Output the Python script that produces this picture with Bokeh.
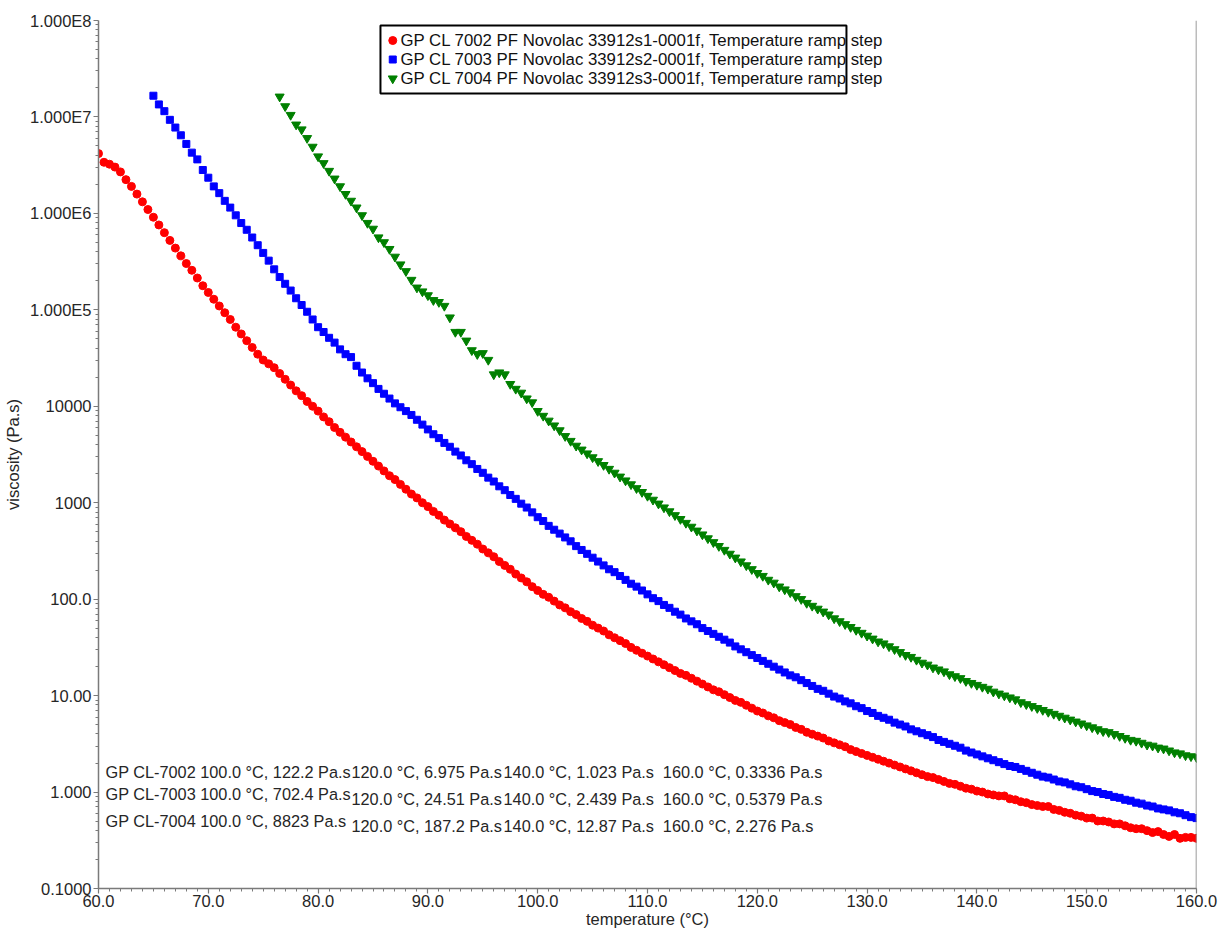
import numpy as np
from bokeh.plotting import figure
from bokeh.models import FixedTicker, CustomJSTickFormatter, ColumnDataSource, Span
from bokeh.core.properties import value
from bokeh.embed import file_html
from bokeh.resources import INLINE

# ---------------- data ----------------
temperature = [
    60.0, 60.5, 61.0, 61.5, 62.0, 62.5, 63.0, 63.5, 64.0, 64.5,
    65.0, 65.5, 66.0, 66.5, 67.0, 67.5, 68.0, 68.5, 69.0, 69.5,
    70.0, 70.5, 71.0, 71.5, 72.0, 72.5, 73.0, 73.5, 74.0, 74.5,
    75.0, 75.5, 76.0, 76.5, 77.0, 77.5, 78.0, 78.5, 79.0, 79.5,
    80.0, 80.5, 81.0, 81.5, 82.0, 82.5, 83.0, 83.5, 84.0, 84.5,
    85.0, 85.5, 86.0, 86.5, 87.0, 87.5, 88.0, 88.5, 89.0, 89.5,
    90.0, 90.5, 91.0, 91.5, 92.0, 92.5, 93.0, 93.5, 94.0, 94.5,
    95.0, 95.5, 96.0, 96.5, 97.0, 97.5, 98.0, 98.5, 99.0, 99.5,
    100.0, 100.5, 101.0, 101.5, 102.0, 102.5, 103.0, 103.5, 104.0, 104.5,
    105.0, 105.5, 106.0, 106.5, 107.0, 107.5, 108.0, 108.5, 109.0, 109.5,
    110.0, 110.5, 111.0, 111.5, 112.0, 112.5, 113.0, 113.5, 114.0, 114.5,
    115.0, 115.5, 116.0, 116.5, 117.0, 117.5, 118.0, 118.5, 119.0, 119.5,
    120.0, 120.5, 121.0, 121.5, 122.0, 122.5, 123.0, 123.5, 124.0, 124.5,
    125.0, 125.5, 126.0, 126.5, 127.0, 127.5, 128.0, 128.5, 129.0, 129.5,
    130.0, 130.5, 131.0, 131.5, 132.0, 132.5, 133.0, 133.5, 134.0, 134.5,
    135.0, 135.5, 136.0, 136.5, 137.0, 137.5, 138.0, 138.5, 139.0, 139.5,
    140.0, 140.5, 141.0, 141.5, 142.0, 142.5, 143.0, 143.5, 144.0, 144.5,
    145.0, 145.5, 146.0, 146.5, 147.0, 147.5, 148.0, 148.5, 149.0, 149.5,
    150.0, 150.5, 151.0, 151.5, 152.0, 152.5, 153.0, 153.5, 154.0, 154.5,
    155.0, 155.5, 156.0, 156.5, 157.0, 157.5, 158.0, 158.5, 159.0, 159.5,
    160.0,
]

# log10 of viscosity (Pa.s), one value per temperature point
red_log10_visc = [  # GP CL 7002, 60.0 .. 160.0
    6.62, 6.53, 6.51, 6.48, 6.43, 6.35, 6.28, 6.20, 6.12, 6.04,
    5.96, 5.88, 5.80, 5.72, 5.64, 5.56, 5.48, 5.41, 5.33, 5.25,
    5.18, 5.11, 5.04, 4.97, 4.90, 4.82, 4.75, 4.68, 4.61, 4.54,
    4.48, 4.44, 4.40, 4.34, 4.28, 4.22, 4.16, 4.11, 4.05, 4.00,
    3.95, 3.89, 3.84, 3.78, 3.73, 3.68, 3.63, 3.58, 3.53, 3.48,
    3.43, 3.38, 3.33, 3.28, 3.24, 3.19, 3.14, 3.09, 3.05, 3.00,
    2.96, 2.91, 2.87, 2.82, 2.78, 2.74, 2.70, 2.65, 2.61, 2.57,
    2.52, 2.48, 2.44, 2.39, 2.35, 2.31, 2.26, 2.22, 2.18, 2.13,
    2.09, 2.05, 2.02, 1.98, 1.94, 1.91, 1.87, 1.84, 1.80, 1.77,
    1.73, 1.70, 1.67, 1.63, 1.60, 1.57, 1.54, 1.50, 1.47, 1.44,
    1.41, 1.38, 1.35, 1.32, 1.29, 1.26, 1.23, 1.21, 1.18, 1.15,
    1.12, 1.09, 1.06, 1.04, 1.01, 0.98, 0.95, 0.93, 0.90, 0.87,
    0.84, 0.82, 0.79, 0.77, 0.74, 0.72, 0.70, 0.67, 0.65, 0.62,
    0.60, 0.58, 0.56, 0.53, 0.51, 0.49, 0.47, 0.44, 0.42, 0.40,
    0.38, 0.36, 0.34, 0.32, 0.30, 0.28, 0.26, 0.24, 0.22, 0.20,
    0.18, 0.16, 0.15, 0.13, 0.11, 0.09, 0.08, 0.06, 0.04, 0.03,
    0.01, 0.00, -0.02, -0.03, -0.04, -0.04, -0.07, -0.08, -0.10, -0.11,
    -0.13, -0.14, -0.15, -0.15, -0.18, -0.19, -0.21, -0.22, -0.24, -0.25,
    -0.27, -0.27, -0.30, -0.30, -0.31, -0.33, -0.33, -0.35, -0.37, -0.38,
    -0.38, -0.40, -0.42, -0.41, -0.44, -0.46, -0.44, -0.48, -0.47, -0.47,
    -0.48,
]

blue_log10_visc = [  # GP CL 7003, 65.0 .. 160.0
    7.22, 7.13, 7.06, 6.97, 6.89, 6.81, 6.72, 6.63, 6.56, 6.45,
    6.37, 6.28, 6.21, 6.13, 6.06, 5.98, 5.90, 5.83, 5.75, 5.67,
    5.59, 5.51, 5.42, 5.34, 5.27, 5.20, 5.12, 5.05, 4.98, 4.90,
    4.82, 4.77, 4.71, 4.66, 4.59, 4.54, 4.51, 4.42, 4.35, 4.29,
    4.24, 4.18, 4.13, 4.08, 4.03, 3.99, 3.95, 3.91, 3.86, 3.81,
    3.76, 3.71, 3.67, 3.62, 3.58, 3.53, 3.49, 3.44, 3.40, 3.35,
    3.31, 3.26, 3.22, 3.17, 3.13, 3.08, 3.04, 2.99, 2.95, 2.90,
    2.85, 2.81, 2.76, 2.72, 2.68, 2.64, 2.60, 2.55, 2.51, 2.47,
    2.43, 2.39, 2.35, 2.31, 2.28, 2.24, 2.20, 2.16, 2.13, 2.09,
    2.05, 2.01, 1.98, 1.94, 1.91, 1.87, 1.84, 1.80, 1.77, 1.74,
    1.70, 1.67, 1.64, 1.61, 1.58, 1.55, 1.51, 1.48, 1.45, 1.42,
    1.39, 1.36, 1.33, 1.30, 1.27, 1.24, 1.21, 1.19, 1.16, 1.13,
    1.10, 1.07, 1.05, 1.02, 0.99, 0.97, 0.94, 0.92, 0.89, 0.87,
    0.84, 0.82, 0.79, 0.77, 0.75, 0.72, 0.70, 0.68, 0.65, 0.63,
    0.61, 0.59, 0.57, 0.54, 0.52, 0.50, 0.48, 0.46, 0.43, 0.41,
    0.39, 0.37, 0.35, 0.33, 0.31, 0.29, 0.27, 0.26, 0.24, 0.22,
    0.20, 0.18, 0.16, 0.15, 0.13, 0.11, 0.10, 0.08, 0.06, 0.05,
    0.03, 0.01, 0.00, -0.02, -0.03, -0.05, -0.06, -0.08, -0.09, -0.11,
    -0.12, -0.14, -0.15, -0.17, -0.18, -0.19, -0.21, -0.22, -0.24, -0.26,
    -0.27,
]

green_log10_visc = [  # GP CL 7004, 76.5 .. 160.0
    7.21, 7.11, 7.02, 6.92, 6.87, 6.78, 6.69,
    6.59, 6.52, 6.44, 6.36, 6.28, 6.20, 6.13, 6.06, 5.98, 5.90,
    5.84, 5.75, 5.70, 5.63, 5.55, 5.47, 5.40, 5.31, 5.23, 5.19,
    5.15, 5.10, 5.08, 5.04, 4.92, 4.77, 4.77, 4.68, 4.58, 4.54,
    4.55, 4.48, 4.33, 4.35, 4.33, 4.23, 4.18, 4.14, 4.08, 4.04,
    3.95, 3.90, 3.85, 3.80, 3.75, 3.69, 3.64, 3.59, 3.55, 3.51,
    3.47, 3.43, 3.39, 3.35, 3.31, 3.27, 3.23, 3.19, 3.15, 3.11,
    3.07, 3.03, 2.99, 2.95, 2.91, 2.87, 2.83, 2.79, 2.75, 2.71,
    2.67, 2.63, 2.59, 2.55, 2.51, 2.47, 2.43, 2.39, 2.35, 2.31,
    2.27, 2.24, 2.20, 2.17, 2.13, 2.10, 2.07, 2.03, 2.00, 1.96,
    1.93, 1.90, 1.87, 1.84, 1.80, 1.77, 1.74, 1.71, 1.68, 1.65,
    1.62, 1.59, 1.56, 1.54, 1.51, 1.48, 1.45, 1.42, 1.40, 1.37,
    1.34, 1.32, 1.29, 1.27, 1.25, 1.22, 1.20, 1.18, 1.15, 1.13,
    1.11, 1.09, 1.07, 1.04, 1.02, 1.00, 0.98, 0.96, 0.93, 0.91,
    0.89, 0.87, 0.85, 0.83, 0.81, 0.79, 0.77, 0.75, 0.73, 0.71,
    0.69, 0.67, 0.65, 0.63, 0.62, 0.60, 0.58, 0.56, 0.54, 0.53,
    0.51, 0.49, 0.48, 0.46, 0.45, 0.43, 0.41, 0.40, 0.38, 0.37,
    0.36,
]

series_names = [
    "GP CL 7002 PF Novolac 33912s1-0001f, Temperature ramp step",
    "GP CL 7003 PF Novolac 33912s2-0001f, Temperature ramp step",
    "GP CL 7004 PF Novolac 33912s3-0001f, Temperature ramp step",
]
series_colors = ["#ff0000", "#0000ff", "#008000"]
series_markers = ["circle", "square", "inverted_triangle"]
series_sizes = [8, 7, 9]
series_start_index = [0, 10, 33]  # first temperature index of each series

annotation_texts = [
    ["GP CL-7002 100.0 \u00b0C, 122.2 Pa.s", "120.0 \u00b0C, 6.975 Pa.s",
     "140.0 \u00b0C, 1.023 Pa.s", "160.0 \u00b0C, 0.3336 Pa.s"],
    ["GP CL-7003 100.0 \u00b0C, 702.4 Pa.s", "120.0 \u00b0C, 24.51 Pa.s",
     "140.0 \u00b0C, 2.439 Pa.s", "160.0 \u00b0C, 0.5379 Pa.s"],
    ["GP CL-7004 100.0 \u00b0C, 8823 Pa.s", "120.0 \u00b0C, 187.2 Pa.s",
     "140.0 \u00b0C, 12.87 Pa.s", "160.0 \u00b0C, 2.276 Pa.s"],
]

x_ticks = [60, 70, 80, 90, 100, 110, 120, 130, 140, 150, 160]
y_ticks = [0.1, 1, 10, 100, 1000, 10000, 100000, 1000000, 10000000, 100000000]
y_tick_labels = ["0.1000", "1.000", "10.00", "100.0", "1000", "10000",
                 "1.000E5", "1.000E6", "1.000E7", "1.000E8"]

# ---------------- figure ----------------
FONT = "Liberation Sans"
AXIS_GRAY = "#7a7a7a"
TEXT_COLOR = "#262626"

p = figure(width=1219, height=930, x_range=(60, 160), y_range=(0.1, 1e8),
           y_axis_type="log", output_backend="svg", toolbar_location=None,
           min_border_left=98, min_border_right=23, min_border_top=20,
           min_border_bottom=42, background_fill_color="white",
           border_fill_color="white")
p.outline_line_color = None
p.xgrid.visible = False
p.ygrid.visible = False

x_minor = [v for v in range(60, 161)]
y_minor = [m * 10.0 ** e for e in range(-1, 8) for m in range(1, 10)]
p.xaxis.ticker = FixedTicker(ticks=x_ticks, minor_ticks=x_minor)
p.yaxis.ticker = FixedTicker(ticks=y_ticks, minor_ticks=y_minor)
p.xaxis.formatter = CustomJSTickFormatter(code="return tick.toFixed(1);")
p.yaxis.formatter = CustomJSTickFormatter(
    args=dict(labels=y_tick_labels),
    code="return labels[Math.round(Math.log10(tick)) + 1];")

p.xaxis.axis_label = "temperature (\u00b0C)"
p.yaxis.axis_label = "viscosity (Pa.s)"
for ax in (p.xaxis[0], p.yaxis[0]):
    ax.axis_line_color = AXIS_GRAY
    ax.axis_line_width = 1.5
    ax.major_tick_line_color = AXIS_GRAY
    ax.minor_tick_line_color = AXIS_GRAY
    ax.major_tick_line_width = 1.2
    ax.minor_tick_line_width = 1
    ax.major_tick_out = 5
    ax.major_tick_in = 0
    ax.minor_tick_out = 3
    ax.minor_tick_in = 0
    ax.major_label_text_font = FONT
    ax.major_label_text_font_size = "16.5px"
    ax.major_label_text_color = TEXT_COLOR
    ax.axis_label_text_font = FONT
    ax.axis_label_text_font_size = "16.5px"
    ax.axis_label_text_font_style = "normal"
    ax.axis_label_text_color = TEXT_COLOR
p.xaxis.major_label_standoff = 1
p.xaxis.axis_label_standoff = 0
p.yaxis.major_label_standoff = 2
p.yaxis.axis_label_standoff = 5

p.add_layout(Span(location=160, dimension="height", line_color=AXIS_GRAY,
                  line_width=1.5))

# ---------------- data series ----------------
all_logs = [red_log10_visc, blue_log10_visc, green_log10_visc]
for logs, start, color, marker, size in zip(all_logs, series_start_index,
                                            series_colors, series_markers,
                                            series_sizes):
    t = temperature[start:start + len(logs)]
    src = ColumnDataSource(dict(t=t, v=[10.0 ** l for l in logs]))
    p.scatter("t", "v", source=src, marker=marker, size=size,
              fill_color=color, line_color=color)

# ---------------- legend box (drawn by hand, text overflows like reference) ----
p.quad(left=[85.68], right=[128.12], top=[8.87e7], bottom=[1.75e7],
       fill_color="white", line_color="black", line_width=2)
legend_y = [6.2e7, 3.94e7, 2.5e7]
for yy, color, marker, size in zip(legend_y, series_colors, series_markers,
                                   series_sizes):
    p.scatter([86.8], [yy], marker=marker, size=size, fill_color=color,
              line_color=color)
p.text(x=[87.5] * 3, y=legend_y, text=series_names, text_baseline="middle",
       text_align="left", text_font=value(FONT), text_font_size="16.8px",
       text_color="#111111")

# ---------------- value annotations ----------------
col_x = [60.64, 83.04, 96.89, 111.4]
row_y = [[1.607, 1.607, 1.607, 1.607],
         [0.966, 0.857, 0.857, 0.857],
         [0.507, 0.45, 0.45, 0.45]]
ax_, ay_, at_ = [], [], []
for r, row in enumerate(annotation_texts):
    for c, txt in enumerate(row):
        ax_.append(col_x[c])
        ay_.append(row_y[r][c])
        at_.append(txt)
p.text(x=ax_, y=ay_, text=at_, text_baseline="middle", text_align="left",
       text_font=value(FONT), text_font_size="16.3px", text_color=TEXT_COLOR)

open("out.html", "w").write(file_html(p, INLINE))
